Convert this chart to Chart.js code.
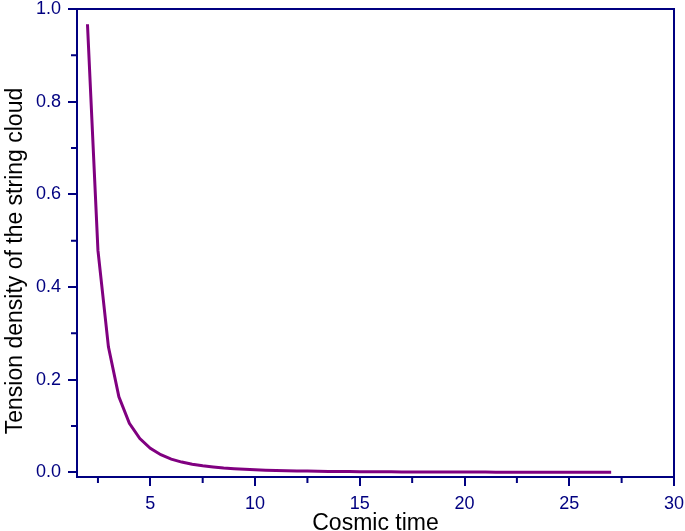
<!DOCTYPE html>
<html>
<head>
<meta charset="utf-8">
<script src="https://cdn.jsdelivr.net/npm/chart.js@4"></script>
<style>
  html, body { margin: 0; padding: 0; background: #fff; }
  #wrap { width: 685px; height: 531px; }
</style>
</head>
<body>
<div id="wrap"><canvas id="chart"></canvas></div>
<script>
// cosmic time, step 0.5 from 2 to 27
const cosmicTime = [
  2, 2.5, 3, 3.5, 4, 4.5, 5, 5.5, 6, 6.5, 7, 7.5, 8, 8.5, 9, 9.5, 10,
  10.5, 11, 11.5, 12, 12.5, 13, 13.5, 14, 14.5, 15, 15.5, 16, 16.5, 17,
  17.5, 18, 18.5, 19, 19.5, 20, 20.5, 21, 21.5, 22, 22.5, 23, 23.5, 24,
  24.5, 25, 25.5, 26, 26.5, 27
];
const tension = [
  0.967, 0.479, 0.271, 0.163, 0.106, 0.073, 0.052, 0.038, 0.0287, 0.0222,
  0.0176, 0.0141, 0.0115, 0.0094, 0.0079, 0.0066, 0.0056, 0.0048, 0.0041,
  0.0036, 0.0031, 0.0027, 0.0024, 0.0021, 0.0019, 0.0017, 0.0015, 0.0014,
  0.0012, 0.0011, 0.0010, 0.00095, 0.00087, 0.0008, 0.00074, 0.00068,
  0.00063, 0.00058, 0.00054, 0.0005, 0.00046, 0.00043, 0.0004, 0.00038,
  0.00035, 0.00033, 0.00031, 0.00029, 0.00027, 0.00026, 0.00024
];

const xMajor = [5, 10, 15, 20, 25, 30];
const xMinor = [2.5, 7.5, 12.5, 17.5, 22.5, 27.5];
const yMajor = [0, 0.2, 0.4, 0.6, 0.8, 1.0];
const yMinor = [0.1, 0.3, 0.5, 0.7, 0.9];
const yTitle = "Tension density of the string cloud";

const NAVY = "#000080";
const FONT = "Liberation Sans, Arial, sans-serif";

// frame round the plot, short minor ticks, and the y title
// (the y title sits a bit below the middle of the axis in the original)
const framePlugin = {
  id: "frame",
  afterDraw(chart) {
    const { ctx, chartArea: a, scales } = chart;
    ctx.save();
    ctx.strokeStyle = NAVY;
    ctx.lineWidth = 2;
    ctx.strokeRect(a.left, a.top, a.right - a.left, a.bottom - a.top);
    ctx.beginPath();
    xMinor.forEach(v => {
      const px = scales.x.getPixelForValue(v);
      ctx.moveTo(px, a.bottom);
      ctx.lineTo(px, a.bottom + 6);
    });
    yMinor.forEach(v => {
      const py = scales.y.getPixelForValue(v);
      ctx.moveTo(a.left, py);
      ctx.lineTo(a.left - 6, py);
    });
    ctx.stroke();

    ctx.translate(21.5, 261);
    ctx.rotate(-Math.PI / 2);
    ctx.fillStyle = "#000";
    ctx.font = "23px " + FONT;
    ctx.textAlign = "center";
    ctx.textBaseline = "alphabetic";
    ctx.fillText(yTitle, 0, 0);
    ctx.restore();
  }
};

new Chart(document.getElementById("chart"), {
  type: "line",
  data: {
    datasets: [{
      data: cosmicTime.map((t, i) => ({ x: t, y: tension[i] })),
      borderColor: "#800080",
      borderWidth: 3,
      pointRadius: 0,
      tension: 0,
      fill: false
    }]
  },
  options: {
    responsive: true,
    maintainAspectRatio: false,
    animation: false,
    layout: { padding: 0 },
    plugins: { legend: { display: false }, tooltip: { enabled: false } },
    scales: {
      x: {
        type: "linear",
        min: 1.5,
        max: 30,
        afterBuildTicks: s => { s.ticks = xMajor.map(v => ({ value: v })); },
        afterFit: s => {
          s.height = 54;
          s.paddingLeft = 0;
          s.paddingRight = 11;
        },
        border: { display: false },
        grid: { display: true, drawOnChartArea: false, color: NAVY, lineWidth: 2, tickLength: 9 },
        ticks: {
          color: NAVY,
          padding: 7,
          maxRotation: 0,
          font: { family: FONT, size: 18 }
        },
        title: {
          display: true,
          text: "Cosmic time",
          color: "#000",
          padding: 0,
          font: { family: FONT, size: 23, lineHeight: 0.64 }
        }
      },
      y: {
        min: -0.01,
        max: 1.0,
        afterBuildTicks: s => { s.ticks = yMajor.map(v => ({ value: v })); },
        afterFit: s => {
          s.width = 77;
          s.paddingTop = 9;
          s.paddingBottom = 0;
        },
        border: { display: false },
        grid: { display: true, drawOnChartArea: false, color: NAVY, lineWidth: 2, tickLength: 9 },
        ticks: {
          color: NAVY,
          padding: 7,
          callback: v => v.toFixed(1),
          font: { family: FONT, size: 18 }
        },
        title: { display: false }
      }
    }
  },
  plugins: [framePlugin]
});
</script>
</body>
</html>
